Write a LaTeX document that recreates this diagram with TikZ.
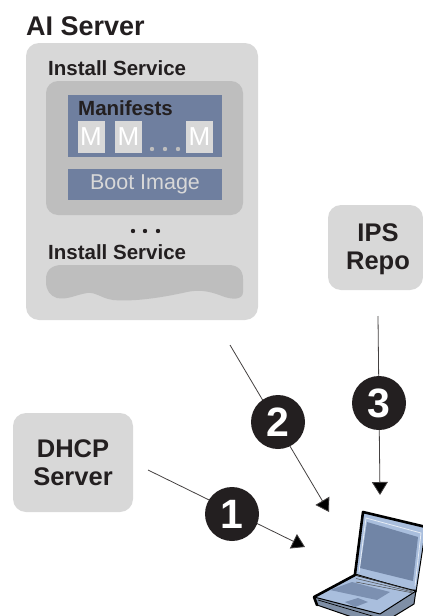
\documentclass[tikz,border=0pt]{standalone}
\usepackage{fontspec}
\setmainfont{Liberation Sans}
\usetikzlibrary{arrows.meta}
\definecolor{panel}{HTML}{D8D8D8}
\definecolor{inner}{HTML}{BEBEBE}
\definecolor{slate}{HTML}{6F7F9F}
\definecolor{ink}{HTML}{231F20}
\definecolor{lapblue}{HTML}{A9BEDD}
\definecolor{lapscreen}{HTML}{7185A6}
\tikzset{
  x=1pt,y=-1pt,
  box/.style={fill=panel,rounded corners=13pt},
  title/.style={font=\bfseries\fontsize{25.5}{28}\selectfont,text=ink,align=center,inner sep=0pt},
  label/.style={font=\bfseries\fontsize{20.5}{21}\selectfont,text=ink,inner sep=0pt,anchor=west},
  mbox/.style={fill=panel,text=white,font=\fontsize{26}{26}\selectfont,inner sep=0pt,minimum width=27,minimum height=32},
  badge/.style={circle,fill=ink,text=white,font=\bfseries\fontsize{41}{41}\selectfont,inner sep=0pt,minimum size=54},
  link/.style={draw=ink!85,line width=0.8pt,-{Triangle[length=13pt,width=16pt,fill=black]}},
}
\begin{document}
\begin{tikzpicture}
\useasboundingbox (0,0) rectangle (423,616);
\clip (0,0) rectangle (423,616);
% AI server
\node[font=\bfseries\fontsize{27}{27}\selectfont,text=ink,inner sep=0pt,anchor=west] (ai) at (26,26) {AI Server};
\fill[box] (26,43) rectangle (258,320);
\node[label] (is1) at (48,68) {Install Service};
\fill[inner,rounded corners=12pt] (46,81) rectangle (243,215);
\fill[slate] (68,95) rectangle (222,157);
\node[font=\bfseries\fontsize{20.5}{21}\selectfont,text=ink,inner sep=0pt,anchor=west] (man) at (78,108) {Manifests};
\node[mbox] (m1) at (91,137) {M};
\node[mbox] (m2) at (128.5,137) {M};
\node[mbox] (m3) at (199.5,137) {M};
\foreach \x in {152,165,178} \fill[inner] (\x,149) circle (2.2);
\fill[slate] (68,169) rectangle (222,200);
\node[font=\fontsize{21.5}{22}\selectfont,text=panel,inner sep=0pt] (boot) at (145,184) {Boot Image};
\foreach \x in {133,145,158} \fill[ink] (\x,231) circle (2.2);
\node[label] (is2) at (48,252) {Install Service};
\fill[inner] (46,282) -- (46,279) .. controls (46,270) and (52,265) .. (62,265) -- (228,265)
  .. controls (238,265) and (243,270) .. (243,279) -- (243,292)
  .. controls (243,300) and (232,300) .. (222,296) .. controls (207,290) and (197,290) .. (187,292)
  .. controls (165,297) and (135,302) .. (113,300) .. controls (100,298) and (97,292) .. (87,293)
  .. controls (75,295) and (68,300) .. (57,298) .. controls (50,296) and (46,290) .. (46,282) -- cycle;
% other servers
\fill[box] (13,413) rectangle (133,512);
\node[title] (dhcp) at (73,463) {DHCP\\Server};
\fill[box] (328,205) -- (423,205) -- (423,290) -- (328,290) -- cycle;
\node[title] (ips) at (378,249) {IPS\\Repo};
% connectors
\coordinate (s1) at (148,470);
\coordinate (e1) at (305,547);
\coordinate (s2) at (230,345);
\coordinate (e2) at (329,512);
\coordinate (s3) at (378,316);
\coordinate (e3) at (380,495);
\draw[link] (s1) -- (e1);
\draw[link] (s2) -- (e2);
\draw[link] (s3) -- (e3);
\node[badge] (b1) at (232,514) {1};
\node[badge] (b2) at (278,422) {2};
\node[badge] (b3) at (379,403) {3};
% laptop lid
\fill[lapblue,draw=black,line width=1pt,line join=round] (363,512) -- (426,527) -- (416,592) -- (355,574) -- cycle;
\draw[black,line width=2.6pt,line join=round,line cap=round] (355,574) -- (363,512) -- (426,527);
\fill[lapscreen] (367,522) -- (418,537) -- (413,581) -- (360,568) -- cycle;
\draw[white!70!lapblue,line width=0.8pt] (359,572) -- (366,518) -- (421,533) -- (415,586);
% laptop base
\fill[lapblue!75!black,draw=black,line width=1pt,line join=round] (314,597) -- (317,605) -- (378,626) -- (414,604) -- (416,590) -- cycle;
\fill[lapblue,draw=black,line width=1pt,line join=round] (355,575) -- (314,597) -- (380,614) -- (416,591) -- cycle;
\draw[black,line width=2.6pt,line join=round,line cap=round] (355,575) -- (314,597) -- (317,605);
\fill[lapscreen!80!lapblue] (330,590) -- (352,582) -- (390,592) -- (377,600) -- cycle;
\fill[lapscreen!80!lapblue] (345,602) -- (358,598) -- (368,602) -- (355,607) -- cycle;
\foreach \i in {0,1,2} \draw[black!70,line width=0.5pt] (356,{575+\i*3.5}) -- (413,{591+\i*1});
\draw[black,line width=0.7pt] (318,600) -- (379,618);
\end{tikzpicture}
\end{document}
